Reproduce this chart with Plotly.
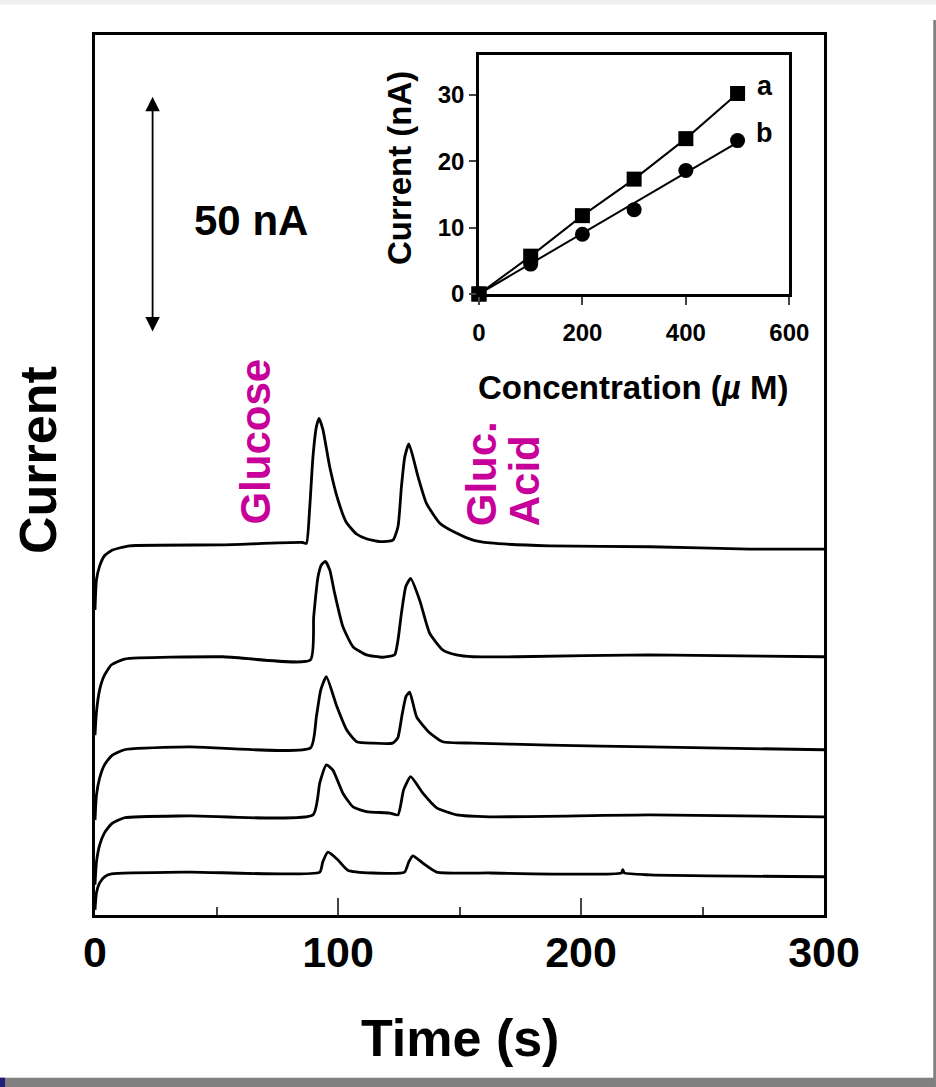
import numpy as np
import plotly.graph_objects as go

# ---------------- data ----------------
# electropherograms (time in s, current in nA incl. vertical offsets)
t1 = [0, 0.6, 1.9, 3.9, 7.2, 14.2, 52.5, 85.4, 87.0, 88.3, 89.7, 91.1, 92.2, 93.8, 96.6, 100.0,
      103.4, 107.6, 111.7, 117.2, 122.6, 124.7, 126.1, 127.5, 129.2, 132.9, 136.4, 141.9, 148.7,
      155.6, 162.5, 187.1, 228.3, 269.5, 300]
i1 = [64.6, 71.0, 73.9, 76.1, 77.3, 78.2, 78.4, 78.9, 78.7, 85.8, 97.1, 103.4, 105.2, 102.8, 94.9, 87.9,
      83.2, 80.7, 79.7, 79.1, 79.4, 82.3, 90.7, 97.1, 99.8, 92.9, 87.2, 83.0, 80.9,
      79.4, 78.8, 78.2, 78.0, 77.5, 77.5]

t2 = [0, 0.6, 1.9, 3.9, 6.8, 12.1, 52.5, 88.6, 90.0, 91.8, 93.2, 94.8, 96.6, 98.6, 102.0, 106.2,
      111.7, 118.5, 123.3, 124.7, 126.1, 127.9, 129.9, 133.6, 137.7, 143.2, 148.7, 155.6, 173.6, 228.3, 300]
i2 = [38.1, 43.0, 47.7, 50.8, 53.0, 54.2, 54.7, 54.0, 63.2, 71.7, 74.2, 74.9, 73.1, 68.2, 61.1, 56.8,
      55.1, 54.6, 55.1, 58.3, 63.9, 69.6, 71.3, 66.7, 59.7, 56.1, 55.1, 54.7, 54.7, 55.1, 54.7]

t3 = [0, 0.6, 1.9, 3.9, 6.8, 12.1, 38.9, 88.7, 91.1, 92.9, 95.2, 99.3, 103.6, 107.7, 114.3, 122.5,
      124.6, 126.4, 128.0, 129.5, 132.4, 137.7, 143.1, 155.5, 187.1, 228.3, 300]
i3 = [20.1, 25.4, 29.0, 31.8, 33.7, 35.0, 35.6, 35.4, 42.0, 47.7, 50.5, 44.5, 39.2, 36.7, 36.4, 36.4,
      37.5, 42.5, 46.3, 47.2, 41.9, 38.6, 36.7, 36.4, 36.0, 35.6, 35.0]

t4 = [0, 0.6, 1.9, 3.9, 6.8, 12.1, 38.9, 89.7, 92.5, 95.2, 97.9, 102.0, 106.2, 111.7, 121.3, 124.7,
      127.0, 129.9, 134.9, 140.6, 148.9, 162.5, 228.3, 300]
i4 = [6.4, 11.2, 14.8, 17.4, 19.3, 20.6, 21.0, 21.2, 28.0, 31.8, 30.7, 25.8, 22.9, 21.9, 21.6, 21.2,
      26.5, 29.3, 25.8, 22.7, 21.2, 20.8, 21.2, 20.8]

t5 = [0, 0.6, 1.9, 3.9, 6.8, 38.9, 92.5, 93.7, 95.9, 99.9, 104.0, 114.3, 127.4, 129.1, 130.8, 134.9,
      140.6, 162.5, 216.6, 217.2, 217.8, 228.3, 300]
i5 = [1.1, 4.7, 6.8, 8.1, 8.7, 9.1, 9.1, 11.2, 13.3, 11.7, 9.5, 8.9, 9.1, 11.2, 12.5, 11.0,
      9.1, 8.9, 8.9, 9.6, 8.9, 8.5, 8.1]

traces = [(t1, i1), (t2, i2), (t3, i3), (t4, i4), (t5, i5)]

# inset calibration
conc = [0, 100, 200, 300, 400, 500]          # µM
cur_a = [0, 5.7, 11.8, 17.3, 23.4, 30.2]     # nA (glucose)
cur_b = [0, 4.5, 9.0, 12.7, 18.6, 23.1]      # nA (gluconic acid)

x_ticks = [0, 100, 200, 300]
inset_x_ticks = [0, 200, 400, 600]
inset_y_ticks = [0, 10, 20, 30]
scale_bar_nA = 50

# ---------------- figure ----------------
FONT = "Liberation Sans, Arial, sans-serif"
MAG = "#C7009A"

fig = go.Figure()

for t, i in traces:
    fig.add_trace(go.Scatter(x=t, y=i, mode="lines",
                             line=dict(color="black", width=2.8, shape="spline", smoothing=0.5),
                             showlegend=False, hoverinfo="skip"))

# inset
fig.add_trace(go.Scatter(x=conc, y=cur_a, mode="lines+markers", xaxis="x2", yaxis="y2",
                         line=dict(color="black", width=2),
                         marker=dict(symbol="square", size=15, color="black"),
                         cliponaxis=False, showlegend=False))
slope, icpt = np.polyfit(conc, cur_b, 1)
fit_b = [slope * c + icpt for c in conc]
fig.add_trace(go.Scatter(x=[conc[0], conc[-1]], y=[max(fit_b[0], 0), fit_b[-1]], mode="lines",
                         xaxis="x2", yaxis="y2", line=dict(color="black", width=2),
                         cliponaxis=False, showlegend=False))
fig.add_trace(go.Scatter(x=conc, y=cur_b, mode="markers", xaxis="x2", yaxis="y2",
                         marker=dict(symbol="circle", size=15, color="black"),
                         cliponaxis=False, showlegend=False))
fig.add_trace(go.Scatter(x=conc[:1], y=cur_a[:1], mode="markers", xaxis="x2", yaxis="y2",
                         marker=dict(symbol="square", size=15, color="black"),
                         cliponaxis=False, showlegend=False))

fig.update_layout(
    width=936, height=1087,
    margin=dict(l=95, r=112, t=35, b=172),
    paper_bgcolor="white", plot_bgcolor="white",
    font=dict(family=FONT, color="black"),
    xaxis=dict(range=[0, 300], tickvals=x_ticks, ticks="inside", ticklen=17, tickwidth=2,
               minor=dict(dtick=50, ticks="inside", ticklen=8, tickwidth=2, tick0=0),
               showline=True, linewidth=3, linecolor="black", mirror=True,
               showgrid=False, zeroline=False,
               tickfont=dict(size=43, family=FONT, weight="bold"), ticklabelstandoff=-3),
    yaxis=dict(range=[0, 186.4], showticklabels=False, ticks="",
               showline=True, linewidth=3, linecolor="black", mirror=True,
               showgrid=False, zeroline=False),
    xaxis2=dict(domain=[0.5267, 0.9524], anchor="y2", range=[0, 600], tickvals=inset_x_ticks,
                ticks="outside", ticklen=8, tickwidth=2, showline=True, linewidth=2.5,
                linecolor="black", mirror=True, showgrid=False, zeroline=False,
                tickfont=dict(size=24, family=FONT, weight="bold"), ticklabelstandoff=7),
    yaxis2=dict(domain=[0.7057, 0.9773], anchor="x2", range=[0, 36], tickvals=inset_y_ticks,
                ticks="outside", ticklen=7, tickwidth=2, showline=True, linewidth=2.5,
                linecolor="black", mirror=True, showgrid=False, zeroline=False,
                tickfont=dict(size=24, family=FONT, weight="bold"), ticklabelstandoff=0),
)

def txt(x, y, text, size, ref=("paper", "paper"), color="black", angle=0, **kw):
    d = dict(x=x, y=y, xref=ref[0], yref=ref[1], text=text, showarrow=False, textangle=angle,
             xanchor="center", yanchor="middle",
             font=dict(size=size, family=FONT, weight="bold", color=color))
    d.update(kw)
    return d

ann = []
ann.append(dict(x=23.7, y=123.3 + scale_bar_nA, ax=23.7, ay=123.3, xref="x", yref="y",
                axref="x", ayref="y", text="", showarrow=True, arrowside="end+start",
                arrowhead=2, startarrowhead=2, arrowsize=1.6, startarrowsize=1.6,
                arrowwidth=1.8, arrowcolor="black", standoff=0, startstandoff=0))
ann.append(txt(64.4, 147.2, f"{scale_bar_nA} nA", 42, ref=("x", "y")))
ann.append(txt(66.1, 100.2, "Glucose", 42, ref=("x", "y"), color=MAG, angle=-90))
ann.append(txt(158.8, 82.0, "Gluc.", 42, ref=("x", "y"), color=MAG, angle=-90, yanchor="bottom"))
ann.append(txt(176.9, 82.0, "Acid", 42, ref=("x", "y"), color=MAG, angle=-90, yanchor="bottom"))
ann.append(txt(0.5007, -0.1398, "Time (s)", 52))
ann.append(txt(-0.0782, 0.517, "Current", 52, angle=-90))
ann.append(txt(0.4184, 0.8489, "Current (nA)", 33, angle=-90))
ann.append(txt(0.738, 0.60, "Concentration (<i>µ</i> M)", 33))
ann.append(txt(553, 31.4, "a", 27, ref=("x2", "y2")))
ann.append(txt(553, 24.3, "b", 27, ref=("x2", "y2")))
fig.update_layout(annotations=ann)

shapes = [
    dict(type="rect", xref="paper", yref="paper", x0=-0.1303, x1=1.1536, y0=1.0347, y1=1.0398,
         fillcolor="#EFEFF2", line_width=0, layer="below"),
    dict(type="rect", xref="paper", yref="paper", x0=1.1499, x1=1.1536, y0=-0.1852, y1=1.0170,
         fillcolor="#808080", line_width=0),
    dict(type="rect", xref="paper", yref="paper", x0=-0.1303, x1=1.1536, y0=-0.1955, y1=-0.1849,
         fillcolor="#808080", line_width=0),
    dict(type="rect", xref="paper", yref="paper", x0=-0.1303, x1=-0.1235, y0=-0.1955, y1=-0.1849,
         fillcolor="#1F1F78", line_width=0),
]
fig.update_layout(shapes=shapes)

fig.write_html("out.html")
